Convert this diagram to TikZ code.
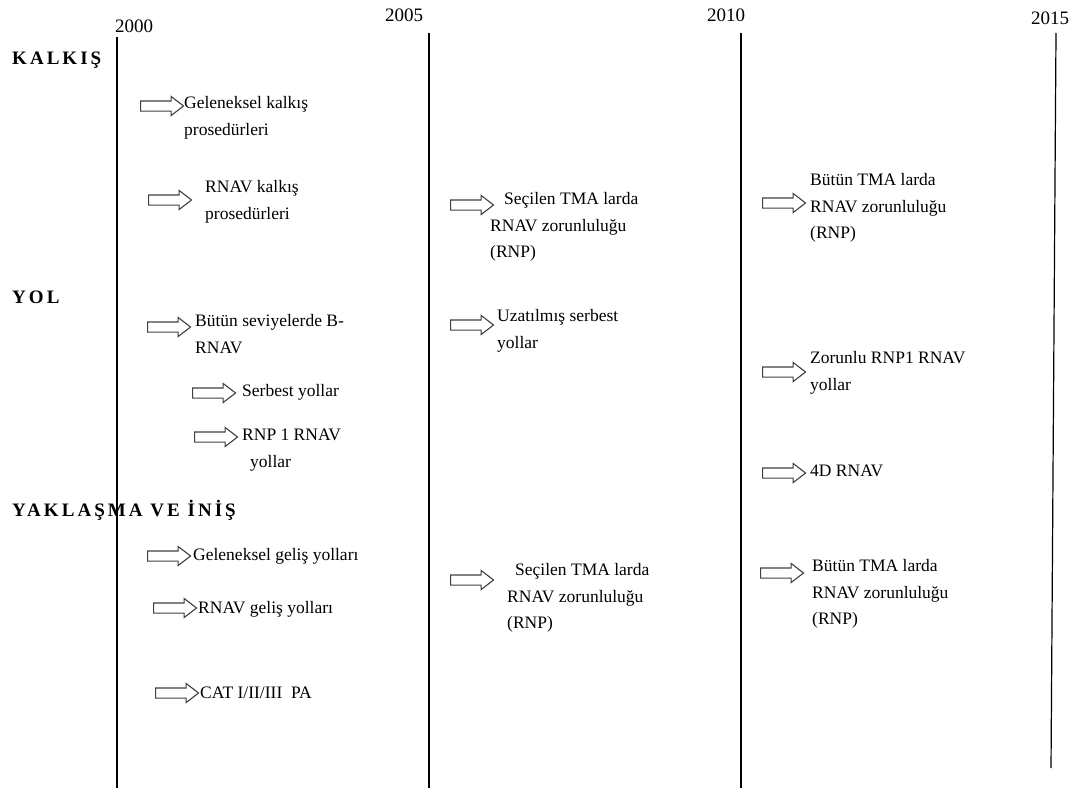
\documentclass[tikz,border=0pt]{standalone}
\usepackage{fontspec}
\setmainfont{Liberation Serif}
\newfontfamily\headfont[LetterSpace=16]{Liberation Serif}
\usetikzlibrary{shapes.arrows}

\tikzset{
    blockarrow/.style={single arrow, draw=black!75, fill=white, line width=1.1pt,
        inner xsep=0pt, inner ysep=4.5pt, minimum height=43pt, minimum width=18pt,
        single arrow head extend=4.5pt, single arrow tip angle=75, anchor=west},
    entry/.style={anchor=west, inner sep=0pt, align=left,
        font=\fontsize{17.5}{26.5}\selectfont},
    heading/.style={anchor=west, inner sep=0pt,
        font=\headfont\bfseries\fontsize{19}{20}\selectfont},
    year/.style={inner sep=0pt, font=\fontsize{19}{20}\selectfont},
    timeline/.style={line width=1.2pt}
}

\begin{document}
\begin{tikzpicture}[x=1pt, y=-1pt]
    \useasboundingbox (0, 0) rectangle (1075, 790);

    % years and time lines
    \node[year] (y2000) at (134, 26) {2000};
    \node[year] (y2005) at (404, 15) {2005};
    \node[year] (y2010) at (726, 15) {2010};
    \node[year] (y2015) at (1050, 18) {2015};
    \draw[timeline] (117, 37) -- (117, 788);
    \draw[timeline] (429, 33) -- (429, 788);
    \draw[timeline] (741, 33) -- (741, 788);
    \draw[timeline] (1056, 33) -- (1051, 768);

    % headings
    \node[heading] (kalkis) at (12, 60) {KALKIŞ};
    \node[heading] (yol) at (12, 297) {YOL};
    \node[heading] (yaklasma) at (12, 510) {YAKLAŞMA VE İNİŞ};

    % KALKIŞ
    \node[blockarrow] (a1) at (140, 106) {};
    \node[entry] (t1) at (184, 118) {Geleneksel kalkış\\prosedürleri};
    \node[blockarrow] (a2) at (148, 200) {};
    \node[entry] (t2) at (205, 202) {RNAV kalkış\\prosedürleri};
    \node[blockarrow] (a3) at (450, 205) {};
    \node[entry] (t3) at (490, 227) {\hspace*{14pt}Seçilen TMA larda\\RNAV zorunluluğu\\(RNP)};
    \node[blockarrow] (a4) at (762, 203) {};
    \node[entry] (t4) at (810, 208) {Bütün TMA larda\\RNAV zorunluluğu\\(RNP)};

    % YOL
    \node[blockarrow] (a5) at (147, 327) {};
    \node[entry] (t5) at (195, 334) {Bütün seviyelerde B-\\RNAV};
    \node[blockarrow] (a6) at (450, 325) {};
    \node[entry] (t6) at (497, 331) {Uzatılmış serbest\\yollar};
    \node[blockarrow] (a7) at (192, 393) {};
    \node[entry] (t7) at (242, 392) {Serbest yollar};
    \node[blockarrow] (a8) at (194, 437) {};
    \node[entry] (t8) at (242, 450) {RNP 1 RNAV\\\hspace*{8pt}yollar};
    \node[blockarrow] (a9) at (762, 372) {};
    \node[entry] (t9) at (810, 373) {Zorunlu RNP1 RNAV\\yollar};
    \node[blockarrow] (a10) at (762, 473) {};
    \node[entry] (t10) at (810, 471) {4D RNAV};

    % YAKLAŞMA VE İNİŞ
    \node[blockarrow] (a11) at (147, 556) {};
    \node[entry] (t11) at (193, 556) {Geleneksel geliş yolları};
    \node[blockarrow] (a12) at (153, 608) {};
    \node[entry] (t12) at (198, 609) {RNAV geliş yolları};
    \node[blockarrow] (a13) at (450, 580) {};
    \node[entry] (t13) at (507, 598) {\hspace*{8pt}Seçilen TMA larda\\RNAV zorunluluğu\\(RNP)};
    \node[blockarrow] (a14) at (760, 573) {};
    \node[entry] (t14) at (812, 594) {Bütün TMA larda\\RNAV zorunluluğu\\(RNP)};
    \node[blockarrow] (a15) at (155, 693) {};
    \node[entry] (t15) at (200, 693) {CAT I/II/III\ \ PA};
\end{tikzpicture}
\end{document}
